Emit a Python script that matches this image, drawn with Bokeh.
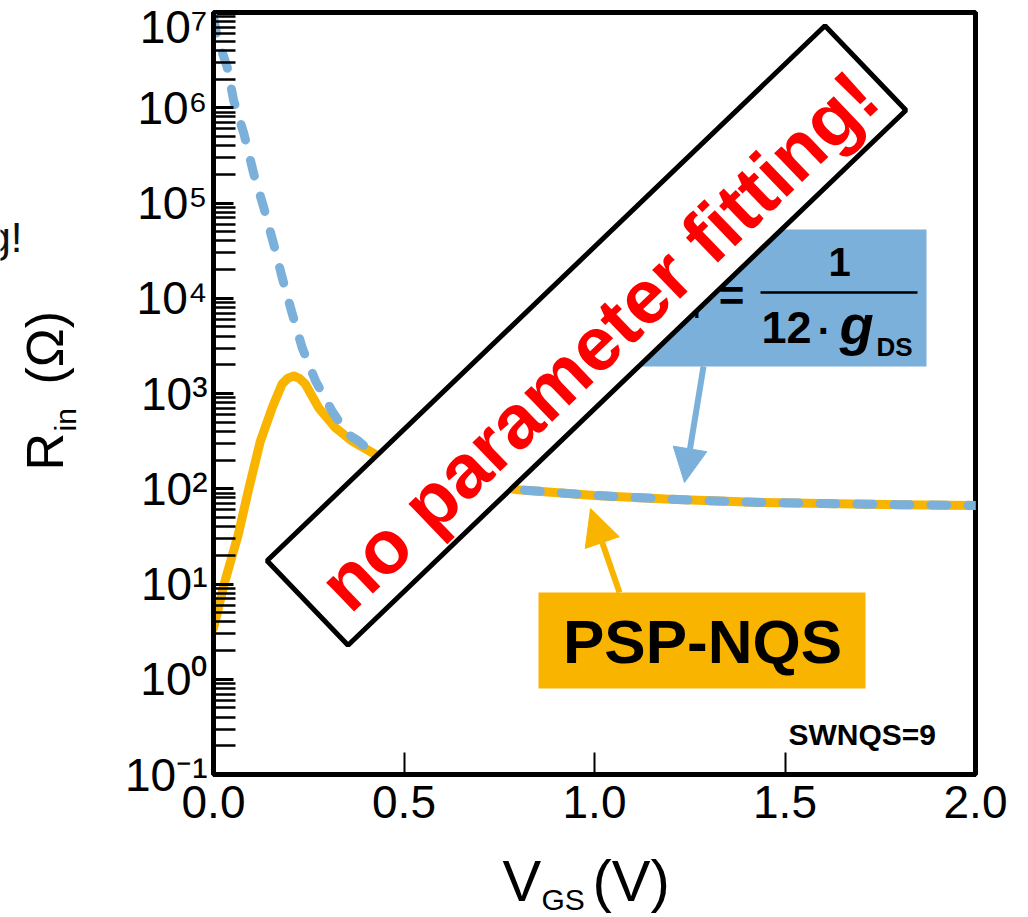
import math
from bokeh.plotting import figure
from bokeh.layouts import row, column
from bokeh.models import (FixedTicker, PrintfTickFormatter, CustomJSTickFormatter,
                          Arrow, NormalHead, Range1d)
from bokeh.core.properties import value
from bokeh.embed import file_html
from bokeh.resources import INLINE

# ---------------- data ----------------
vgs_psp = [0.0, 0.03, 0.065, 0.093, 0.123, 0.154, 0.18, 0.195, 0.211, 0.225, 0.241,
           0.276, 0.32, 0.364, 0.425, 0.5, 0.6, 0.7, 0.8, 1.0, 1.2, 1.4, 1.6, 1.8, 2.0]
rin_psp = [3.43, 10.7, 33.1, 102, 316, 708, 1259, 1445, 1528, 1445, 1259,
           708, 437, 316, 229, 166, 129, 110, 97.7, 85.1, 77.6, 72.4, 70.0, 68.1, 66.8]

vgs_gds = [0.0, 0.01, 0.036, 0.053, 0.08, 0.106, 0.132, 0.158, 0.18, 0.207, 0.233,
           0.268, 0.311, 0.35, 0.381, 0.41, 0.5, 0.6, 0.7, 0.8, 1.0, 1.2, 1.4, 1.6, 1.8, 2.0]
rin_gds = [8.9e6, 5.5e6, 2.66e6, 1.19e6, 5.3e5, 2.0e5, 8.9e4, 3.7e4, 1.66e4, 6.8e3, 3.0e3,
           1.35e3, 655, 380, 316, 251, 166, 129, 110, 97.7, 85.1, 77.6, 72.4, 70.0, 68.1, 66.8]

x_ticks = [0.0, 0.5, 1.0, 1.5, 2.0]
y_decades = [-1, 0, 1, 2, 3, 4, 5, 6, 7]
y_tick_labels = ["10\u207b\u00b9", "10\u2070", "10\u00b9", "10\u00b2", "10\u00b3",
                 "10\u2074", "10\u2075", "10\u2076", "10\u2077"]

# ---------------- layout (page pixels) ----------------
W, H = 1028, 917
LW = 100          # left strip holding the y title
MH = 842          # height of main figure
FL, FR, FT, FB = 213, 975, 12, 774
X0, X1 = 0.0, 2.0
D0, D1 = -1, 7

def X(px):
    return X0 + (px - FL) / (FR - FL) * (X1 - X0)

def Y(py):
    return 10 ** (D0 + (FB - py) / (FB - FT) * (D1 - D0))

ORANGE = "#F9B400"
BLUE = "#7AB0DA"
FONT = "Liberation Sans"

p = figure(width=W - LW, height=MH, x_range=Range1d(X0, X1),
           y_range=Range1d(10.0 ** D0, 10.0 ** D1),
           y_axis_type="log", output_backend="svg", toolbar_location=None,
           min_border_left=FL - LW, min_border_right=W - FR, min_border_top=FT,
           min_border_bottom=MH - FB)
p.grid.visible = False
p.background_fill_color = "white"
p.border_fill_color = "white"
p.outline_line_color = "black"
p.outline_line_width = 5

# x axis
xa = p.xaxis[0]
xa.ticker = FixedTicker(ticks=x_ticks, minor_ticks=[])
xa.formatter = PrintfTickFormatter(format="%.1f")
xa.axis_line_width = 5
xa.axis_line_color = "black"
xa.major_tick_in = 22
xa.major_tick_out = 0
xa.major_tick_line_width = 2
xa.minor_tick_line_color = None
xa.major_label_text_font = FONT
xa.major_label_text_font_size = "46px"
xa.major_label_text_color = "black"
xa.major_label_standoff = 11

# y axis
ya = p.yaxis[0]
minor = [m * 10.0 ** d for d in y_decades[:-1] for m in range(2, 10)]
ya.ticker = FixedTicker(ticks=[10.0 ** d for d in y_decades], minor_ticks=minor)
ya.formatter = CustomJSTickFormatter(args=dict(labels=y_tick_labels, decades=y_decades),
    code="const e = Math.round(Math.log10(tick)); const i = decades.indexOf(e); return i >= 0 ? labels[i] : '';")
ya.axis_line_width = 5
ya.axis_line_color = "black"
ya.major_tick_in = 20
ya.major_tick_out = 0
ya.major_tick_line_width = 3
ya.minor_tick_in = 22
ya.minor_tick_out = 0
ya.minor_tick_line_width = 2.5
ya.major_label_text_font = FONT
ya.major_label_text_font_size = "46px"
ya.major_label_text_color = "black"
ya.major_label_standoff = 6

# ---------------- curves ----------------
p.line(vgs_psp, rin_psp, line_color=ORANGE, line_width=9, line_join="round", line_cap="round")
p.line(vgs_gds, rin_gds, line_color=BLUE, line_width=9, line_dash="16 21", line_cap="round",
       line_join="round")


def txt(fig, x, y, s, size, font=FONT, style="bold", align="left", color="black", angle=0.0):
    fig.text(x=[x], y=[y], text=[s], text_font=value(font), text_font_style=style,
             text_font_size=size, text_align=align, text_baseline="middle",
             text_color=color, angle=angle)

# ---------------- formula box (blue) ----------------
p.quad(left=[X(628)], right=[X(926)], top=[Y(229)], bottom=[Y(366)],
       fill_color=BLUE, line_color=None)
txt(p, X(678), Y(298), "R", "40px", align="right")
txt(p, X(678), Y(309), "in", "24px")
txt(p, X(731), Y(295), "=", "44px", align="center")
txt(p, X(839), Y(261), "1", "40px", align="center")
p.segment(x0=[X(760)], x1=[X(917)], y0=[Y(292)], y1=[Y(292)], line_color="black", line_width=2.5)
txt(p, X(761), Y(327), "12", "45px")
txt(p, X(824), Y(330), "\u00b7", "40px", align="center")
txt(p, X(839), Y(324), "g", "56px", style="bold italic")
txt(p, X(876), Y(346), "DS", "26px")

# ---------------- PSP-NQS box ----------------
p.quad(left=[X(538)], right=[X(865)], top=[Y(592)], bottom=[Y(688)],
       fill_color=ORANGE, line_color=None)
txt(p, X(702), Y(641), "PSP-NQS", "62px", align="center")
txt(p, X(788), Y(734), "SWNQS=9", "30px")

# ---------------- rotated white box with red text ----------------
ang = math.radians(43.8)
p.rect(x=[X(586)], y=[Y(335)], width=773, height=117, width_units="screen",
       height_units="screen", angle=ang, fill_color="white", line_color="black", line_width=5)
txt(p, X(598), Y(340), "no parameter fitting!", "76px", align="center", color="#FF0000",
    angle=ang)

# ---------------- arrows ----------------
p.add_layout(Arrow(x_start=X(703), y_start=Y(366), x_end=X(684), y_end=Y(482),
                   line_color=BLUE, line_width=6,
                   end=NormalHead(size=34, fill_color=BLUE, line_color=BLUE, line_width=1)))
p.add_layout(Arrow(x_start=X(619), y_start=Y(592), x_end=X(590), y_end=Y(508),
                   line_color=ORANGE, line_width=6,
                   end=NormalHead(size=36, fill_color=ORANGE, line_color=ORANGE, line_width=1)))

# ---------------- side strips for the axis titles ----------------
def strip(w, h, xr, yr):
    f = figure(width=w, height=h, x_range=Range1d(*xr), y_range=Range1d(*yr),
               x_axis_location=None, y_axis_location=None, output_backend="svg",
               toolbar_location=None, min_border=0)
    f.grid.visible = False
    f.outline_line_color = None
    f.background_fill_color = "white"
    f.border_fill_color = "white"
    return f

left = strip(LW, H, (0, LW), (H, 0))
up = math.pi / 2
txt(left, 44, 470, "R", "52px", style="normal", angle=up)
txt(left, 65, 431, "in", "30px", style="normal", angle=up)
txt(left, 44, 384, "(\u03a9)", "52px", style="normal", angle=up)
txt(left, 22, 237, "g!", "42px", style="normal", align="right", color="#111111")

# the column aligns this strip's frame with the main frame (FL..FR)
bottom = strip(W - LW, H - MH, (FL, FR), (H, MH))
txt(bottom, 502, 880, "V", "58px", style="normal")
txt(bottom, 541, 899, "GS", "30px", style="normal")
txt(bottom, 592, 880, "(V)", "58px", style="normal")

layout = row(left, column(p, bottom))
open("out.html", "w").write(file_html(layout, INLINE))
